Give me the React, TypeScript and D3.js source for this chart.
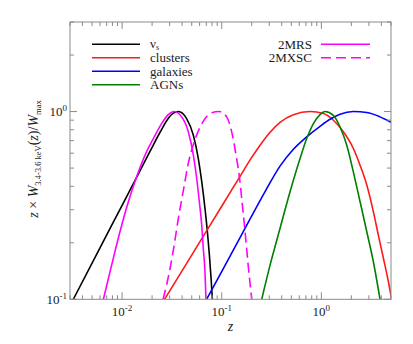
import React from "react";
import * as d3 from "d3";

// ---- data ----
const nuZ = [0.00324, 0.006, 0.01069, 0.01905, 0.02404, 0.0289, 0.0324, 0.0367, 0.0444, 0.0519, 0.0582, 0.063, 0.0679, 0.0718, 0.0752, 0.0782, 0.0805];
const nuW = [0.1, 0.188, 0.339, 0.613, 0.776, 0.916, 0.979, 1.0, 0.918, 0.748, 0.562, 0.423, 0.305, 0.229, 0.172, 0.129, 0.1];

const clusterZ = [0.0267, 0.0605, 0.1, 0.1527, 0.192, 0.2427, 0.3055, 0.3846, 0.524, 0.771, 1.047, 1.32, 1.663, 2.094, 2.447, 2.858, 3.33, 3.73, 4.2, 4.71, 5.08];
const clusterW = [0.1, 0.203, 0.313, 0.452, 0.551, 0.662, 0.776, 0.877, 0.962, 1.0, 0.976, 0.899, 0.78, 0.636, 0.518, 0.406, 0.292, 0.22, 0.165, 0.124, 0.1];

const galaxyZ = [0.0706, 0.1031, 0.1527, 0.2786, 0.3846, 0.524, 0.713, 0.97, 1.222, 1.541, 2.094, 2.858, 3.88, 5.08];
const galaxyW = [0.1, 0.145, 0.213, 0.383, 0.512, 0.63, 0.734, 0.835, 0.91, 0.968, 1.0, 0.988, 0.937, 0.873];

const agnZ = [0.252, 0.3055, 0.385, 0.485, 0.611, 0.713, 0.832, 0.97, 1.089, 1.32, 1.541, 1.799, 2.094, 2.447, 2.858, 3.33, 3.88];
const agnW = [0.1, 0.152, 0.239, 0.374, 0.562, 0.718, 0.863, 0.964, 1.0, 0.955, 0.828, 0.662, 0.477, 0.331, 0.229, 0.158, 0.1];

const mrsZ = [0.00649, 0.00785, 0.00952, 0.01156, 0.014, 0.017, 0.0206, 0.0249, 0.0291, 0.0332, 0.0396, 0.0462, 0.0519, 0.0561, 0.0596, 0.063, 0.0653, 0.0679, 0.0695];
const mrsW = [0.1, 0.152, 0.229, 0.331, 0.449, 0.586, 0.718, 0.863, 0.964, 1.0, 0.937, 0.78, 0.586, 0.44, 0.331, 0.248, 0.187, 0.14, 0.1];

const mxscZ = [0.0258, 0.0303, 0.034, 0.0367, 0.0412, 0.0462, 0.054, 0.0655, 0.0793, 0.0946, 0.1122, 0.1259, 0.1393, 0.1503, 0.16, 0.1714, 0.1836, 0.2];
const mxscW = [0.1, 0.146, 0.208, 0.27, 0.38, 0.53, 0.71, 0.89, 0.985, 1.0, 0.937, 0.78, 0.586, 0.45, 0.33, 0.23, 0.155, 0.1];

const xMajor = [0.01, 0.1, 1];
const xMajorExp = ["-2", "-1", "0"];
const yMajor = [0.1, 1];
const yMajorExp = ["-1", "0"];

const leftLegend = ["clusters", "galaxies", "AGNs"];

// ---- layout ----
const WIDTH = 413;
const HEIGHT = 344;
const X0 = 70, X1 = 391, Y0 = 22, Y1 = 299.3;
const TXT = "#1a1a1a";
const FRAME = "#8a8a8a";
const ts = { fontFamily: "Liberation Serif" };

const zip = (a: number[], b: number[]) => a.map((v, i) => [v, b[i]] as [number, number]);

export default function App() {
  const x = d3.scaleLog().domain([0.003, 5]).range([X0, X1]);
  const y = d3.scaleLog().domain([0.1, 3]).range([Y1, Y0]);
  const line = d3
    .line<[number, number]>()
    .x((d) => x(d[0]))
    .y((d) => y(d[1]))
    .curve(d3.curveMonotoneX);

  const series = [
    { d: zip(nuZ, nuW), c: "#000000", dash: "" },
    { d: zip(clusterZ, clusterW), c: "#ff1a1a", dash: "" },
    { d: zip(galaxyZ, galaxyW), c: "#0000ff", dash: "" },
    { d: zip(agnZ, agnW), c: "#007f00", dash: "" },
    { d: zip(mrsZ, mrsW), c: "#ff00ff", dash: "" },
    { d: zip(mxscZ, mxscW), c: "#ff00ff", dash: "10,5" },
  ];

  const xMinor: number[] = [];
  for (const dec of [0.001, 0.01, 0.1, 1]) {
    for (let k = 2; k <= 9; k++) {
      const v = k * dec;
      if (v >= 0.003 && v <= 5) xMinor.push(v);
    }
  }
  const yMinor: number[] = [];
  for (const dec of [0.1, 1]) {
    for (let k = 2; k <= 9; k++) {
      const v = k * dec;
      if (v > 0.1 && v <= 3) yMinor.push(v);
    }
  }
  const MAJ = 7, MIN = 4;

  const legendLeftY = [57.8, 71.3, 84.8];
  const legendLeftColors = ["#ff1a1a", "#0000ff", "#007f00"];

  return (
    <svg width={WIDTH} height={HEIGHT} style={{ position: "absolute", left: 0, top: 0, background: "#fff" }}>
      <defs>
        <clipPath id="plotclip">
          <rect x={X0} y={Y0} width={X1 - X0} height={Y1 - Y0} />
        </clipPath>
      </defs>
      <rect x={0} y={0} width={WIDTH} height={HEIGHT} fill="#fff" />

      <g clipPath="url(#plotclip)">
        {series.map((s, i) => (
          <path
            key={i}
            d={line(s.d) || ""}
            fill="none"
            stroke={s.c}
            strokeWidth={1.6}
            strokeDasharray={s.dash || undefined}
          />
        ))}
      </g>

      <rect x={X0} y={Y0} width={X1 - X0} height={Y1 - Y0} fill="none" stroke={FRAME} strokeWidth={1} />

      <g stroke={FRAME} strokeWidth={1}>
        {xMajor.map((v) => (
          <g key={"xM" + v}>
            <line x1={x(v)} x2={x(v)} y1={Y1} y2={Y1 - MAJ} />
            <line x1={x(v)} x2={x(v)} y1={Y0} y2={Y0 + MAJ} />
          </g>
        ))}
        {xMinor.map((v) => (
          <g key={"xm" + v}>
            <line x1={x(v)} x2={x(v)} y1={Y1} y2={Y1 - MIN} />
            <line x1={x(v)} x2={x(v)} y1={Y0} y2={Y0 + MIN} />
          </g>
        ))}
        {yMajor.map((v) => (
          <g key={"yM" + v}>
            <line x1={X0} x2={X0 + MAJ} y1={y(v)} y2={y(v)} />
            <line x1={X1} x2={X1 - MAJ} y1={y(v)} y2={y(v)} />
          </g>
        ))}
        {yMinor.map((v) => (
          <g key={"ym" + v}>
            <line x1={X0} x2={X0 + MIN} y1={y(v)} y2={y(v)} />
            <line x1={X1} x2={X1 - MIN} y1={y(v)} y2={y(v)} />
          </g>
        ))}
      </g>

      {xMajor.map((v, i) => (
        <text key={"xl" + v} x={x(v)} y={316} textAnchor="middle" fontSize={13} fill={TXT} style={ts}>
          10
          <tspan fontSize={9} dy={-5}>
            {xMajorExp[i]}
          </tspan>
        </text>
      ))}
      {yMajor.map((v, i) => (
        <text key={"yl" + v} x={67} y={y(v) + 4.5} textAnchor="end" fontSize={13} fill={TXT} style={ts}>
          10
          <tspan fontSize={9} dy={-5}>
            {yMajorExp[i]}
          </tspan>
        </text>
      ))}

      <text x={(X0 + X1) / 2} y={331} textAnchor="middle" fontSize={14} fontStyle="italic" fill={TXT} style={ts}>
        z
      </text>
      <text transform={`translate(38,159) rotate(-90)`} textAnchor="middle" fontSize={14} fill={TXT} style={ts}>
        <tspan fontStyle="italic">z</tspan>
        <tspan> × </tspan>
        <tspan fontStyle="italic">W</tspan>
        <tspan fontSize={8.5} dy={3}>3.4-3.6 keV</tspan>
        <tspan dy={-3}>(</tspan>
        <tspan fontStyle="italic">z</tspan>
        <tspan>)/</tspan>
        <tspan fontStyle="italic">W</tspan>
        <tspan fontSize={8.5} dy={3}>max</tspan>
      </text>

      <line x1={92} x2={140} y1={44.3} y2={44.3} stroke="#000" strokeWidth={1.6} />
      <text x={150} y={47.5} fontSize={13} fill={TXT} style={ts}>
        ν<tspan fontSize={8} dy={2}>s</tspan>
      </text>
      {leftLegend.map((name, i) => (
        <g key={name}>
          <line x1={92} x2={140} y1={legendLeftY[i]} y2={legendLeftY[i]} stroke={legendLeftColors[i]} strokeWidth={1.6} />
          <text x={150} y={legendLeftY[i] + 4.5} fontSize={13} fill={TXT} style={ts}>
            {name}
          </text>
        </g>
      ))}

      <text x={312} y={48.8} textAnchor="end" fontSize={13} fill={TXT} style={ts}>2MRS</text>
      <line x1={321} x2={370} y1={44.3} y2={44.3} stroke="#ff00ff" strokeWidth={1.6} />
      <text x={312} y={62.3} textAnchor="end" fontSize={13} fill={TXT} style={ts}>2MXSC</text>
      <line x1={321} x2={370} y1={57.8} y2={57.8} stroke="#ff00ff" strokeWidth={1.6} strokeDasharray="10,5" />
    </svg>
  );
}
